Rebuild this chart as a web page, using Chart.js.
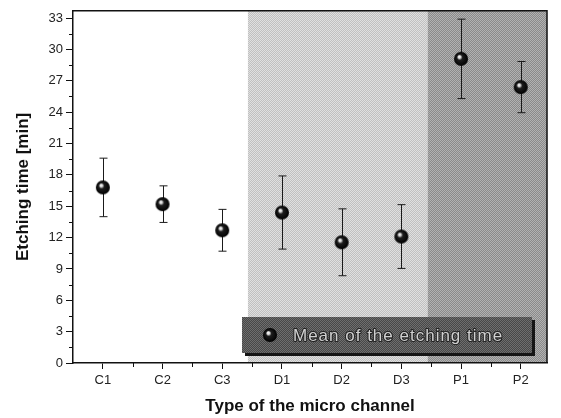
<!DOCTYPE html>
<html>
<head>
<meta charset="utf-8">
<script src="https://cdn.jsdelivr.net/npm/chart.js@4.4.0/dist/chart.umd.min.js"></script>
<style>
  html, body { margin: 0; padding: 0; background: #fff; }
  #wrap { width: 561px; height: 418px; }
</style>
</head>
<body>
<div id="wrap"><canvas id="myChart" width="561" height="418"></canvas></div>
<script>
// data
var channels = ["C1", "C2", "C3", "D1", "D2", "D3", "P1", "P2"];
var meanTime = [16.8, 15.2, 12.7, 14.4, 11.55, 12.1, 29.1, 26.4];
var errTime  = [2.8, 1.75, 2.0, 3.5, 3.2, 3.05, 3.8, 2.45];
var yTicks   = [0, 3, 6, 9, 12, 15, 18, 21, 24, 27, 30, 33];
var seriesName = "Mean of the etching time";

var FONT = "'Liberation Sans', Arial, sans-serif";
var canvas = document.getElementById("myChart");
var ctx = canvas.getContext("2d");

// small halftone-like pattern for the shaded zones
function dither(c1, c2) {
    var p = document.createElement("canvas");
    p.width = 2; p.height = 2;
    var g = p.getContext("2d");
    g.fillStyle = c1; g.fillRect(0, 0, 2, 2);
    g.fillStyle = c2; g.fillRect(0, 0, 1, 1); g.fillRect(1, 1, 1, 1);
    return ctx.createPattern(p, "repeat");
}

// shiny black ball marker
function ball(r) {
    var c = document.createElement("canvas");
    c.width = c.height = 2 * r + 2;
    var g = c.getContext("2d");
    var m = r + 1;
    var grd = g.createRadialGradient(m - r * 0.3, m - r * 0.35, 0, m, m, r);
    grd.addColorStop(0, "#ffffff");
    grd.addColorStop(0.2, "#d8d8d8");
    grd.addColorStop(0.4, "#1e1e1e");
    grd.addColorStop(1, "#000");
    g.fillStyle = grd;
    g.beginPath(); g.arc(m, m, r, 0, Math.PI * 2); g.fill();
    return c;
}
var ballImg = ball(7);

var lightZone = dither("#c0c0c0", "#e0e0e0");
var darkZone = dither("#8a8a8a", "#b2b2b2");
var boxFill = dither("#484848", "#6e6e6e");

var decor = {
    id: "decor",
    beforeDraw: function(chart) {
        var a = chart.chartArea, x = chart.scales.x, c = chart.ctx;
        var x1 = x.getPixelForValue(3.43), x2 = x.getPixelForValue(6.44);
        c.save();
        c.fillStyle = lightZone;
        c.fillRect(x1, a.top, x2 - x1, a.bottom - a.top);
        c.fillStyle = darkZone;
        c.fillRect(x2, a.top, a.right - x2, a.bottom - a.top);
        c.restore();
    },
    beforeDatasetsDraw: function(chart) {
        var x = chart.scales.x, y = chart.scales.y, c = chart.ctx;
        c.save();
        c.strokeStyle = "#1a1a1a";
        c.lineWidth = 1;
        for (var i = 0; i < meanTime.length; i++) {
            var px = Math.round(x.getPixelForValue(i + 1)) + 0.5;
            var top = y.getPixelForValue(meanTime[i] + errTime[i]);
            var bot = y.getPixelForValue(meanTime[i] - errTime[i]);
            c.beginPath();
            c.moveTo(px, top); c.lineTo(px, bot);
            c.moveTo(px - 4, top); c.lineTo(px + 4, top);
            c.moveTo(px - 4, bot); c.lineTo(px + 4, bot);
            c.stroke();
        }
        c.restore();
    },
    afterDraw: function(chart) {
        var a = chart.chartArea, x = chart.scales.x, y = chart.scales.y, c = chart.ctx;
        c.save();
        // frame top and right
        c.strokeStyle = "#111";
        c.lineWidth = 1.5;
        c.beginPath();
        c.moveTo(a.left, a.top); c.lineTo(a.right, a.top); c.lineTo(a.right, a.bottom);
        c.stroke();
        // minor ticks
        c.lineWidth = 1;
        c.beginPath();
        for (var v = 1.5; v < 33.7; v += 3) {
            var py = Math.round(y.getPixelForValue(v)) + 0.5;
            c.moveTo(a.left - 4, py); c.lineTo(a.left, py);
        }
        for (var k = 1.5; k < channels.length; k += 1) {
            var px = Math.round(x.getPixelForValue(k)) + 0.5;
            c.moveTo(px, a.bottom); c.lineTo(px, a.bottom + 4);
        }
        c.stroke();

        // legend box
        var bx = 242, by = 317, bw = 290, bh = 36;
        c.fillStyle = "#151515";
        c.fillRect(bx + 3, by + 3, bw, bh);
        c.fillStyle = boxFill;
        c.fillRect(bx, by, bw, bh);
        c.drawImage(ballImg, 270 - 8, by + bh / 2 - 8);
        c.font = "17px " + FONT;
        c.letterSpacing = "1px";
        c.textBaseline = "middle";
        c.lineJoin = "round";
        c.lineWidth = 2;
        c.strokeStyle = "#222";
        c.strokeText(seriesName, 293, by + bh / 2 + 1);
        c.fillStyle = "#d0d0d0";
        c.fillText(seriesName, 293, by + bh / 2 + 1);
        c.letterSpacing = "0px";
        c.restore();
    }
};

var chart = new Chart(ctx, {
    type: "scatter",
    data: {
        datasets: [{
            label: seriesName,
            data: channels.map(function(c, i) { return { x: i + 1, y: meanTime[i] }; }),
            pointStyle: ballImg,
            showLine: false
        }]
    },
    options: {
        responsive: false,
        animation: false,
        layout: { padding: { top: 8, right: 14, left: 0, bottom: 0 } },
        plugins: { legend: { display: false }, tooltip: { enabled: false } },
        scales: {
            x: {
                type: "linear",
                min: 0.5,
                max: 8.44,
                afterBuildTicks: function(s) {
                    s.ticks = channels.map(function(c, i) { return { value: i + 1 }; });
                },
                afterFit: function(s) { s.height = 55; },
                ticks: {
                    callback: function(v, i) { return channels[i]; },
                    font: { family: FONT, size: 13 },
                    color: "#222",
                    padding: 4,
                    maxRotation: 0
                },
                grid: { drawOnChartArea: false, tickLength: 6, color: "#111" },
                border: { color: "#111", width: 1.5 },
                title: {
                    display: true,
                    text: "Type of the micro channel",
                    font: { family: FONT, size: 17, weight: "bold" },
                    color: "#111",
                    padding: { top: 0, bottom: 1 }
                }
            },
            y: {
                min: 0,
                max: 33.7,
                afterBuildTicks: function(s) {
                    s.ticks = yTicks.map(function(v) { return { value: v }; });
                },
                afterFit: function(s) { s.width = 73; },
                ticks: {
                    font: { family: FONT, size: 13 },
                    color: "#222",
                    padding: 3
                },
                grid: { drawOnChartArea: false, tickLength: 7, color: "#111" },
                border: { color: "#111", width: 1.5 },
                title: {
                    display: true,
                    text: "Etching time [min]",
                    font: { family: FONT, size: 17, weight: "bold" },
                    color: "#111",
                    padding: { top: 13, bottom: 0 }
                }
            }
        }
    },
    plugins: [decor]
});
</script>
</body>
</html>
